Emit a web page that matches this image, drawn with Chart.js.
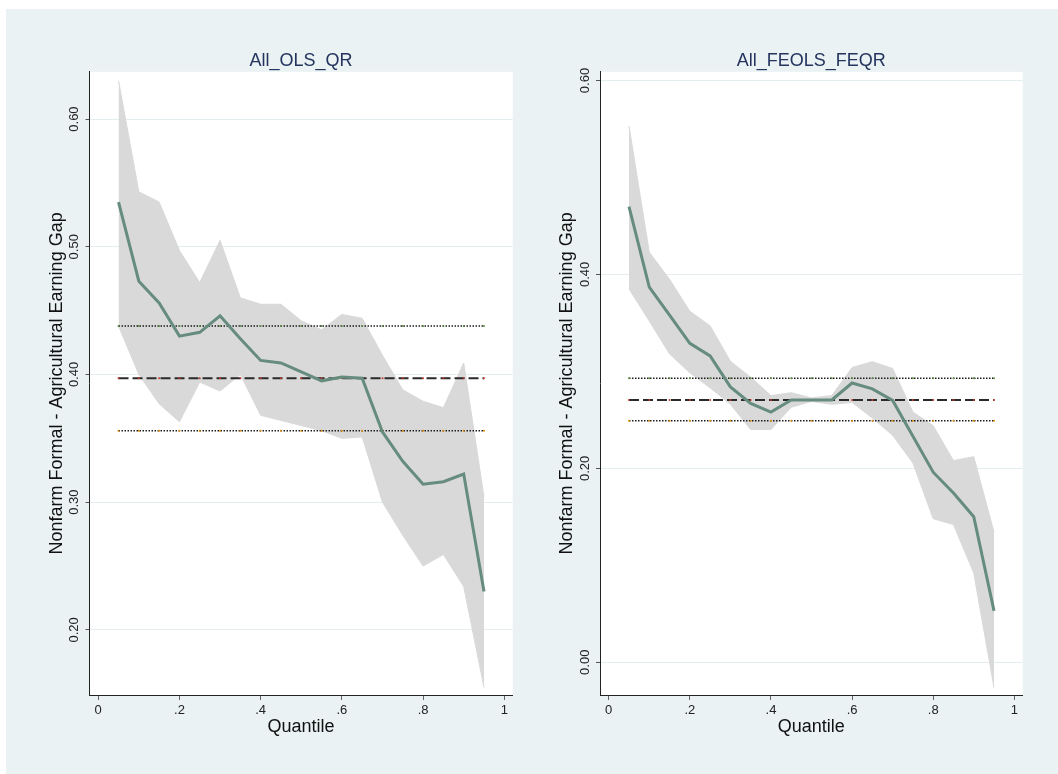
<!DOCTYPE html>
<html>
<head>
<meta charset="utf-8">
<script src="https://cdn.jsdelivr.net/npm/chart.js@4.4.0/dist/chart.umd.min.js"></script>
<style>
  body { margin: 0; background: #fff; width: 1058px; height: 774px; overflow: hidden; position: relative; }
  #bg { position: absolute; left: 6px; top: 9px; width: 1052px; height: 765px; background: #eaf2f3; }
  canvas { position: absolute; }
</style>
</head>
<body>
<div id="bg"></div>
<canvas id="olsChart" width="510" height="740" style="left:20px;top:20px;width:510px;height:740px"></canvas>
<canvas id="feChart" width="528" height="740" style="left:530px;top:20px;width:528px;height:740px"></canvas>
<script>
// quantiles shared by both panels
const quantiles = [0.05, 0.10, 0.15, 0.20, 0.25, 0.30, 0.35, 0.40, 0.45, 0.50,
                   0.55, 0.60, 0.65, 0.70, 0.75, 0.80, 0.85, 0.90, 0.95];
const xTicks = [0, 0.2, 0.4, 0.6, 0.8, 1];
const xTickLabels = ['0', '.2', '.4', '.6', '.8', '1'];

// All_OLS_QR
const olsQrEst   = [0.535, 0.473, 0.456, 0.430, 0.433, 0.446, 0.428, 0.411, 0.409, 0.402,
                    0.395, 0.398, 0.397, 0.355, 0.332, 0.314, 0.316, 0.322, 0.230];
const olsQrUpper = [0.630, 0.543, 0.535, 0.497, 0.472, 0.505, 0.460, 0.455, 0.455, 0.442,
                    0.435, 0.447, 0.444, 0.415, 0.388, 0.379, 0.374, 0.409, 0.304];
const olsQrLower = [0.438, 0.400, 0.377, 0.363, 0.394, 0.387, 0.400, 0.368, 0.364, 0.360,
                    0.356, 0.350, 0.351, 0.300, 0.274, 0.250, 0.259, 0.234, 0.155];
const olsEst = 0.397, olsUpper = 0.438, olsLower = 0.356;
const olsYTicks = [0.2, 0.3, 0.4, 0.5, 0.6];

// All_FEOLS_FEQR
const feQrEst   = [0.470, 0.387, 0.358, 0.329, 0.316, 0.284, 0.267, 0.258, 0.2705, 0.2705,
                   0.2705, 0.288, 0.282, 0.270, 0.233, 0.196, 0.1745, 0.150, 0.053];
const feQrUpper = [0.553, 0.423, 0.395, 0.362, 0.347, 0.3105, 0.294, 0.275, 0.278, 0.2726,
                   0.275, 0.304, 0.310, 0.303, 0.258, 0.244, 0.208, 0.212, 0.134];
const feQrLower = [0.385, 0.352, 0.318, 0.2985, 0.283, 0.266, 0.240, 0.240, 0.263, 0.269,
                   0.266, 0.268, 0.252, 0.234, 0.2055, 0.148, 0.142, 0.092, -0.026];
const feEst = 0.2705, feUpper = 0.293, feLower = 0.249;
const feYTicks = [0, 0.2, 0.4, 0.6];

const fontFamily = '"Liberation Sans", Arial, Helvetica, sans-serif';
const yTitle = 'Nonfarm Formal - Agricultural Earning Gap';

const plotBg = {
  id: 'plotBg',
  beforeDraw(chart) {
    const a = chart.chartArea, ctx = chart.ctx;
    ctx.save();
    ctx.fillStyle = '#ffffff';
    ctx.fillRect(a.left, a.top, a.right - a.left, a.bottom - a.top);
    ctx.restore();
  }
};

function pts(arr) {
  return quantiles.map((q, i) => ({x: q, y: arr[i]}));
}
function flat(v) {
  return quantiles.map(q => ({x: q, y: v}));
}

function makeChart(id, c) {
  return new Chart(document.getElementById(id), {
    type: 'line',
    data: {
      datasets: [
        { data: pts(c.est), borderColor: '#668c7e', borderWidth: 3, pointRadius: 0, fill: false },
        { data: flat(c.ols), borderColor: '#2a2a2a', borderWidth: 2, borderDash: [10, 4],
          pointRadius: 1, pointBackgroundColor: '#c0392b', pointBorderWidth: 0, fill: false },
        { data: flat(c.olsHi), borderColor: '#1a1a1a', borderWidth: 1.5, borderDash: [1.5, 1.5],
          pointRadius: 1, pointBackgroundColor: '#5f8f3f', pointBorderWidth: 0, fill: false },
        { data: flat(c.olsLo), borderColor: '#1a1a1a', borderWidth: 1.5, borderDash: [1.5, 1.5],
          pointRadius: 1, pointBackgroundColor: '#e08a00', pointBorderWidth: 0, fill: false },
        { data: pts(c.hi), borderColor: '#d9d9d9', borderWidth: 1, pointRadius: 0,
          backgroundColor: '#d9d9d9', fill: '+1' },
        { data: pts(c.lo), borderColor: '#d9d9d9', borderWidth: 1, pointRadius: 0, fill: false }
      ]
    },
    options: {
      responsive: false,
      animation: false,
      devicePixelRatio: 1,
      layout: { padding: { left: 0, right: c.padRight, top: 0, bottom: 0 } },
      plugins: {
        legend: { display: false },
        tooltip: { enabled: false },
        title: {
          display: true, text: c.title, fullSize: false, color: '#24345e',
          font: { family: fontFamily, size: 18, weight: 'normal' },
          padding: { top: 30, bottom: 0.2 }
        }
      },
      scales: {
        x: {
          type: 'linear', min: -0.0215, max: 1.0207,
          afterBuildTicks: s => { s.ticks = xTicks.map(v => ({value: v})); },
          afterFit: s => { s.height = 65; },
          ticks: {
            callback: (v, i) => xTickLabels[i],
            font: { family: fontFamily, size: 13 }, color: '#222',
            padding: 3, maxRotation: 0, autoSkip: false
          },
          grid: { drawOnChartArea: false, tickLength: 5, tickColor: '#666' },
          border: { color: '#222', width: 1 },
          title: {
            display: true, text: 'Quantile', color: '#111',
            font: { family: fontFamily, size: 18 }, padding: { top: 0, bottom: 21.7 }
          }
        },
        y: {
          type: 'linear', min: c.yMin, max: c.yMax,
          afterBuildTicks: s => { s.ticks = c.yTicks.map(v => ({value: v})); },
          afterFit: s => { s.width = c.yWidth; },
          ticks: {
            callback: v => v.toFixed(2),
            minRotation: 90, maxRotation: 90, crossAlign: 'center',
            padding: -2, autoSkip: false,
            font: { family: fontFamily, size: 13 }, color: '#222'
          },
          grid: { color: '#e4eef0', lineWidth: 1, tickColor: '#555', tickLength: 4 },
          border: { color: '#222', width: 1 },
          title: {
            display: true, text: yTitle, color: '#111',
            font: { family: fontFamily, size: 18 }, padding: { top: c.titlePad, bottom: 0 }
          }
        }
      }
    },
    plugins: [plotBg]
  });
}

makeChart('olsChart', {
  title: 'All_OLS_QR', est: olsQrEst, hi: olsQrUpper, lo: olsQrLower,
  ols: olsEst, olsHi: olsUpper, olsLo: olsLower,
  yMin: 0.149, yMax: 0.637, yTicks: olsYTicks,
  yWidth: 69.5, padRight: 17.3, titlePad: 26.5
});

makeChart('feChart', {
  title: 'All_FEOLS_FEQR', est: feQrEst, hi: feQrUpper, lo: feQrLower,
  ols: feEst, olsHi: feUpper, olsLo: feLower,
  yMin: -0.0338, yMax: 0.609, yTicks: feYTicks,
  yWidth: 70, padRight: 35.3, titlePad: 26.7
});
</script>
</body>
</html>
